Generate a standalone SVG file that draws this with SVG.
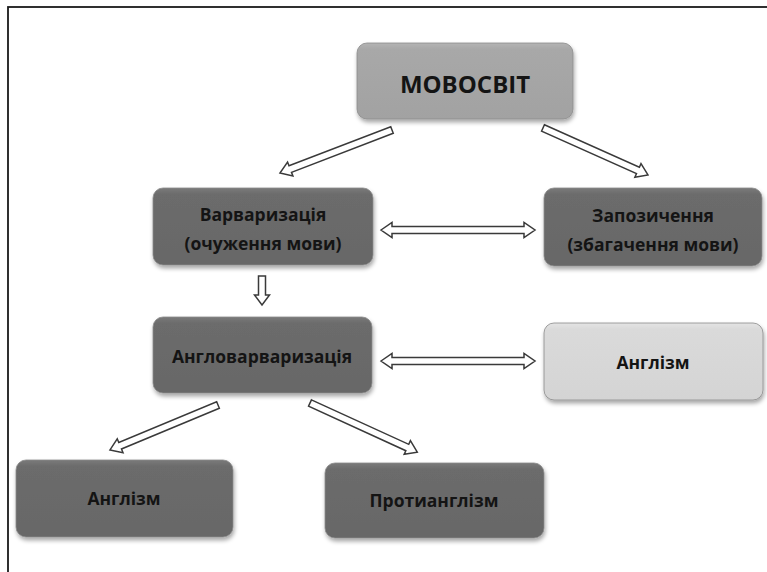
<svg xmlns="http://www.w3.org/2000/svg" width="767" height="572" viewBox="0 0 767 572">
<defs>
<filter id="sh" x="-10%" y="-10%" width="125%" height="135%">
<feDropShadow dx="1" dy="3" stdDeviation="2" flood-color="#000" flood-opacity="0.35"/>
</filter>
<linearGradient id="gDark" x1="0" y1="0" x2="0" y2="1">
<stop offset="0" stop-color="#7a7a7a"/><stop offset="0.08" stop-color="#6c6c6c"/><stop offset="1" stop-color="#676767"/>
</linearGradient>
<linearGradient id="gMid" x1="0" y1="0" x2="0" y2="1">
<stop offset="0" stop-color="#b4b4b4"/><stop offset="0.08" stop-color="#a8a8a8"/><stop offset="1" stop-color="#a2a2a2"/>
</linearGradient>
<linearGradient id="gLight" x1="0" y1="0" x2="0" y2="1">
<stop offset="0" stop-color="#e4e4e4"/><stop offset="0.08" stop-color="#dadada"/><stop offset="1" stop-color="#d4d4d4"/>
</linearGradient>
</defs>
<style>
.box{stroke:#8a8a8a;stroke-width:0.8;filter:url(#sh)}
.dark{fill:url(#gDark)}
.mid{fill:url(#gMid)}
.light{fill:url(#gLight)}
text{font-family:"Open Sans","Noto Sans","DejaVu Sans",sans-serif;font-weight:bold;fill:#141414;text-anchor:middle;dominant-baseline:central}
.t{font-size:17.5px}
.big{font-size:24px}
.arr{fill:#ffffff;stroke:#3a3a3a;stroke-width:1.5;stroke-linejoin:miter}
</style>
<rect x="8" y="7" width="800" height="600" fill="#ffffff" stroke="#1a1a1a" stroke-width="1.8"/>

<g id="connectors">
<path class="arr" transform="translate(392,130) rotate(159)" d="M0,-3.5 L109,-3.5 L109,-7.5 L120,0 L109,7.5 L109,3.5 L0,3.5 Z"/>
<path class="arr" transform="translate(543,128) rotate(24.1)" d="M0,-3.5 L104,-3.5 L104,-7.5 L115,0 L104,7.5 L104,3.5 L0,3.5 Z"/>
<path class="arr" transform="translate(381,230)" d="M0,0 L11,-7.5 L11,-3.5 L143,-3.5 L143,-7.5 L154,0 L143,7.5 L143,3.5 L11,3.5 L11,7.5 Z"/>
<path class="arr" transform="translate(262,276) rotate(90)" d="M0,-3.5 L19,-3.5 L19,-7.5 L29,0 L19,7.5 L19,3.5 L0,3.5 Z"/>
<path class="arr" transform="translate(381,361)" d="M0,0 L11,-7.5 L11,-3.5 L143,-3.5 L143,-7.5 L154,0 L143,7.5 L143,3.5 L11,3.5 L11,7.5 Z"/>
<path class="arr" transform="translate(218,405) rotate(157.4)" d="M0,-3.5 L106,-3.5 L106,-7.5 L117,0 L106,7.5 L106,3.5 L0,3.5 Z"/>
<path class="arr" transform="translate(310,403) rotate(24.6)" d="M0,-3.5 L107,-3.5 L107,-7.5 L118,0 L107,7.5 L107,3.5 L0,3.5 Z"/>
</g>

<g id="n-movosvit">
<rect class="box mid" x="357" y="43" width="216" height="76" rx="10"/>
<text class="big" x="465" y="83">МОВОСВІТ</text>
</g>
<g id="n-varvaryzatsiia">
<rect class="box dark" x="153" y="188" width="220" height="77" rx="10"/>
<text class="t" x="263" y="214">Варваризація</text>
<text class="t" x="263" y="243">(очуження мови)</text>
</g>
<g id="n-zapozychennia">
<rect class="box dark" x="544" y="188" width="218" height="78" rx="10"/>
<text class="t" x="653" y="215">Запозичення</text>
<text class="t" x="653" y="244">(збагачення мови)</text>
</g>
<g id="n-anglovarvaryzatsiia">
<rect class="box dark" x="153" y="317" width="219" height="76" rx="10"/>
<text class="t" x="262" y="356">Англоварваризація</text>
</g>
<g id="n-anhlizm-right">
<rect class="box light" x="544" y="323" width="219" height="77" rx="10"/>
<text class="t" x="653" y="362">Англізм</text>
</g>
<g id="n-anhlizm-bottom">
<rect class="box dark" x="16" y="460" width="217" height="77" rx="10"/>
<text class="t" x="124" y="498">Англізм</text>
</g>
<g id="n-protyanhlizm">
<rect class="box dark" x="325" y="463" width="219" height="75" rx="10"/>
<text class="t" x="434" y="500">Протианглізм</text>
</g>
</svg>
